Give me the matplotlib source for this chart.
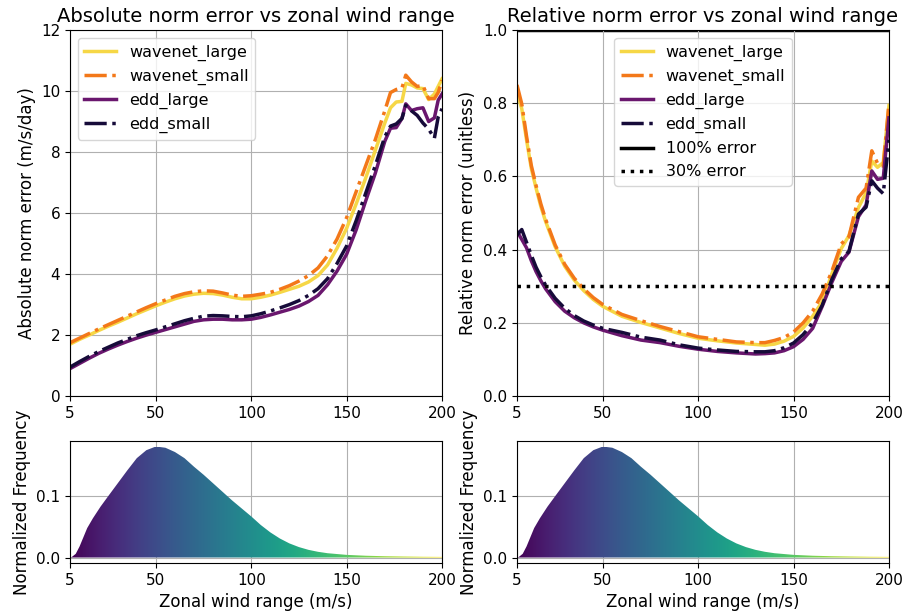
import numpy as np
import matplotlib
matplotlib.use("Agg")
import matplotlib.pyplot as plt


# ── Values ────────────────────────────────────────────────────────────────────
models = ["wavenet_large", "wavenet_small", "edd_large", "edd_small"]

# absolute norm error (m/s/day) vs zonal wind range
wind_abs = [5, 10, 15, 20, 25, 30, 35, 40, 45, 50, 55, 60, 65, 70, 75, 80, 85, 90,
            95, 100, 105, 110, 115, 120, 125, 130, 135, 140, 145, 150, 155, 160,
            165, 170, 173, 176, 179, 181, 184, 187, 190, 193, 196, 198, 200]
abs_wavenet_large = [1.70, 1.86, 2.00, 2.15, 2.29, 2.42, 2.56, 2.70, 2.83, 2.96,
                     3.08, 3.19, 3.28, 3.34, 3.37, 3.36, 3.31, 3.24, 3.19, 3.19,
                     3.24, 3.31, 3.40, 3.50, 3.60, 3.74, 3.95, 4.30, 4.85, 5.50,
                     6.30, 7.15, 8.05, 8.95, 9.45, 9.64, 9.66, 10.25, 10.20, 10.10,
                     10.08, 9.72, 9.90, 10.15, 10.40]
abs_wavenet_small = [1.75, 1.90, 2.05, 2.20, 2.34, 2.48, 2.62, 2.76, 2.90, 3.03,
                     3.15, 3.27, 3.36, 3.42, 3.45, 3.44, 3.38, 3.31, 3.27, 3.29,
                     3.34, 3.40, 3.50, 3.62, 3.77, 3.95, 4.20, 4.60, 5.15, 5.85,
                     6.70, 7.55, 8.40, 9.35, 9.95, 10.05, 10.10, 10.52, 10.30, 10.15,
                     10.18, 9.75, 9.75, 9.95, 10.35]
abs_edd_large = [0.90, 1.07, 1.24, 1.40, 1.54, 1.67, 1.79, 1.90, 2.00, 2.09,
                 2.18, 2.27, 2.36, 2.45, 2.50, 2.52, 2.52, 2.50, 2.50, 2.52,
                 2.58, 2.66, 2.75, 2.84, 2.95, 3.10, 3.30, 3.65, 4.10, 4.65,
                 5.45, 6.40, 7.30, 8.35, 8.78, 8.80, 9.10, 9.58, 9.36, 9.42,
                 9.45, 9.00, 9.12, 9.70, 9.90]
abs_edd_small = [0.95, 1.13, 1.30, 1.46, 1.60, 1.74, 1.86, 1.98, 2.08, 2.17,
                 2.27, 2.37, 2.47, 2.55, 2.62, 2.64, 2.63, 2.61, 2.60, 2.63,
                 2.70, 2.79, 2.89, 3.00, 3.13, 3.30, 3.52, 3.85, 4.35, 4.92,
                 5.75, 6.65, 7.55, 8.50, 8.85, 8.92, 9.10, 9.53, 9.35, 9.20,
                 8.95, 8.75, 8.45, 9.15, 9.42]

# relative norm error (unitless) vs zonal wind range
wind_rel = [5, 7.5, 10, 12.5, 15, 17.5, 20, 25, 30, 35, 40, 45, 50, 60, 70, 80, 90,
            100, 110, 120, 130, 135, 140, 145, 150, 155, 160, 165, 170, 175, 179,
            184, 188, 191, 194, 197, 200]
rel_wavenet_large = [0.830, 0.785, 0.700, 0.622, 0.568, 0.518, 0.477, 0.408, 0.355,
                     0.317, 0.288, 0.264, 0.245, 0.218, 0.201, 0.186, 0.171, 0.158,
                     0.151, 0.145, 0.141, 0.139, 0.142, 0.150, 0.163, 0.186, 0.218,
                     0.258, 0.333, 0.403, 0.438, 0.515, 0.555, 0.642, 0.625, 0.638,
                     0.794]
rel_wavenet_small = [0.850, 0.798, 0.710, 0.630, 0.575, 0.525, 0.483, 0.413, 0.360,
                     0.322, 0.293, 0.269, 0.250, 0.223, 0.206, 0.190, 0.176, 0.162,
                     0.155, 0.148, 0.146, 0.146, 0.152, 0.160, 0.175, 0.200, 0.232,
                     0.279, 0.340, 0.416, 0.435, 0.543, 0.568, 0.670, 0.636, 0.628,
                     0.800]
rel_edd_large = [0.450, 0.428, 0.405, 0.370, 0.340, 0.315, 0.293, 0.258, 0.232,
                 0.214, 0.200, 0.189, 0.180, 0.165, 0.153, 0.146, 0.136, 0.128,
                 0.122, 0.118, 0.115, 0.116, 0.118, 0.124, 0.135, 0.155, 0.185,
                 0.245, 0.310, 0.368, 0.393, 0.490, 0.522, 0.615, 0.592, 0.595,
                 0.760]
rel_edd_small = [0.440, 0.455, 0.420, 0.385, 0.352, 0.326, 0.303, 0.267, 0.240,
                 0.220, 0.205, 0.194, 0.185, 0.174, 0.161, 0.153, 0.140, 0.131,
                 0.126, 0.122, 0.121, 0.121, 0.124, 0.132, 0.145, 0.168, 0.200,
                 0.248, 0.318, 0.375, 0.395, 0.497, 0.516, 0.588, 0.568, 0.553,
                 0.700]

# normalized frequency of zonal wind range
freq_wind = [5, 6, 8, 10, 12, 14, 17, 21, 25, 30, 35, 40, 45, 50, 55, 60, 65, 70,
             75, 80, 85, 90, 95, 100, 105, 110, 115, 120, 125, 130, 135, 140, 150,
             160, 170, 180, 190, 200]
freq_values = [0.0, 0.001, 0.006, 0.018, 0.033, 0.048, 0.064, 0.083, 0.100, 0.121,
               0.142, 0.162, 0.175, 0.181, 0.179, 0.172, 0.162, 0.148, 0.135, 0.121,
               0.107, 0.093, 0.080, 0.067, 0.053, 0.041, 0.031, 0.023, 0.017, 0.0125,
               0.0093, 0.007, 0.0043, 0.0029, 0.0021, 0.0016, 0.0012, 0.0010]

xticks = [5, 50, 100, 150, 200]

abs_errors = [abs_wavenet_large, abs_wavenet_small, abs_edd_large, abs_edd_small]
rel_errors = [rel_wavenet_large, rel_wavenet_small, rel_edd_large, rel_edd_small]

# ── Styles ────────────────────────────────────────────────────────────────────
cmap = plt.cm.inferno
styles = {
    "wavenet_large": dict(color=cmap(0.9), linestyle="-"),
    "wavenet_small": dict(color=cmap(0.7), linestyle="-."),
    "edd_large":     dict(color=cmap(0.3), linestyle="-"),
    "edd_small":     dict(color=cmap(0.1), linestyle="-."),
}
LW = 2.5
LEGEND_FS = 11.5


def plot_frequency(ax):
    """Density of wind range, filled with a viridis gradient along x."""
    poly = ax.fill_between(freq_wind, 0, freq_values, color="none", lw=0)
    gradient = np.linspace(0, 1, 512).reshape(1, -1)
    im = ax.imshow(gradient, cmap="viridis", aspect="auto",
                   extent=[freq_wind[0], freq_wind[-1], 0, max(freq_values)],
                   origin="lower", zorder=2)
    im.set_clip_path(poly.get_paths()[0], transform=ax.transData)
    ax.set_xlim(5, 200)
    ax.set_ylim(-0.009, 0.19)
    ax.set_xticks(xticks)
    ax.set_yticks([0.0, 0.1])
    ax.set_xlabel("Zonal wind range (m/s)", fontsize=12)
    ax.set_ylabel("Normalized Frequency", fontsize=12)
    ax.tick_params(labelsize=11)
    ax.grid(True)


fig, axes = plt.subplots(2, 2, figsize=(9.06, 6.16), dpi=100,
                         gridspec_kw={"height_ratios": [3, 1]})
fig.subplots_adjust(left=0.0773, right=0.9812, top=0.9513, bottom=0.086,
                    wspace=0.2016, hspace=0.184)

# ── Absolute error ────────────────────────────────────────────────────────────
ax = axes[0, 0]
for name, vals in zip(models, abs_errors):
    ax.plot(wind_abs, vals, lw=LW, label=name, **styles[name])
ax.set_xlim(5, 200)
ax.set_ylim(0, 12)
ax.set_xticks(xticks)
ax.set_title("Absolute norm error vs zonal wind range", fontsize=14)
ax.set_ylabel("Absolute norm error (m/s/day)", fontsize=12)
ax.tick_params(labelsize=11)
ax.grid(True)
ax.legend(loc="upper left", fontsize=LEGEND_FS)

# ── Relative error ────────────────────────────────────────────────────────────
ax = axes[0, 1]
for name, vals in zip(models, rel_errors):
    ax.plot(wind_rel, vals, lw=LW, label=name, **styles[name])
ax.axhline(1.0, color="black", lw=LW, linestyle="-", label="100% error", zorder=1)
ax.axhline(0.3, color="black", lw=LW, linestyle=":", label="30% error")
ax.set_xlim(5, 200)
ax.set_ylim(0, 1.0)
ax.set_xticks(xticks)
ax.set_title("Relative norm error vs zonal wind range", fontsize=14)
ax.set_ylabel("Relative norm error (unitless)", fontsize=12)
ax.tick_params(labelsize=11)
ax.grid(True)
ax.legend(loc="upper center", fontsize=LEGEND_FS)

# ── Wind range distribution ───────────────────────────────────────────────────
plot_frequency(axes[1, 0])
plot_frequency(axes[1, 1])

fig.savefig("out.png", dpi=100)
